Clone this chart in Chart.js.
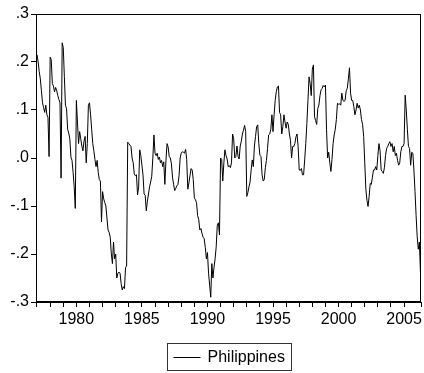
<!DOCTYPE html>
<html>
<head>
<meta charset="utf-8">
<script src="https://cdn.jsdelivr.net/npm/chart.js@4.4.1/dist/chart.umd.min.js"></script>
<style>
  html, body { margin: 0; padding: 0; background: #fff; }
  #wrap { width: 424px; height: 373px; }
</style>
</head>
<body>
<div id="wrap"><canvas id="chart" width="424" height="373"></canvas></div>
<script>
// monthly series, 1977M01 .. 2006M04
const startYear = 1977;
const seriesName = "Philippines";
const yearLabels = [1980, 1985, 1990, 1995, 2000, 2005];
const yTickValues = [-0.3, -0.2, -0.1, 0.0, 0.1, 0.2, 0.3];

const philippines = [
  // 1977
  0.215, 0.200, 0.180, 0.165, 0.140, 0.115, 0.105, 0.095, 0.110, 0.090, 0.085, 0.003,
  // 1978
  0.210, 0.205, 0.155, 0.150, 0.138, 0.147, 0.140, 0.130, 0.122, 0.115, -0.042, 0.240,
  // 1979
  0.230, 0.170, 0.110, 0.103, 0.060, 0.052, 0.040, 0.002, -0.005, -0.030, -0.060, -0.105,
  // 1980
  0.120, 0.075, 0.030, 0.055, 0.040, 0.025, 0.015, 0.035, 0.045, -0.010, 0.030, 0.110,
  // 1981
  0.115, 0.090, 0.060, 0.030, 0.015, -0.003, -0.018, -0.005, -0.030, -0.045, -0.048, -0.133,
  // 1982
  -0.070, -0.085, -0.093, -0.100, -0.125, -0.150, -0.155, -0.165, -0.200, -0.220, -0.175, -0.210,
  // 1983
  -0.200, -0.250, -0.240, -0.238, -0.240, -0.262, -0.275, -0.268, -0.272, -0.228, -0.225, 0.033,
  // 1984
  0.030, 0.027, 0.024, 0.000, -0.010, -0.033, -0.037, -0.035, -0.077, -0.060, 0.017, 0.005,
  // 1985
  -0.015, -0.035, -0.075, -0.078, -0.110, -0.090, -0.075, -0.060, -0.050, -0.038, 0.000, 0.048,
  // 1986
  0.010, 0.005, 0.010, -0.003, 0.002, -0.010, -0.005, -0.018, -0.008, -0.055, -0.005, 0.030,
  // 1987
  0.023, 0.003, 0.000, -0.012, -0.040, -0.055, -0.068, -0.063, -0.058, -0.055, -0.037, 0.000,
  // 1988
  0.010, 0.013, 0.012, 0.010, 0.018, -0.003, -0.065, -0.052, -0.037, -0.022, -0.025, -0.045,
  // 1989
  -0.083, -0.087, -0.093, -0.120, -0.128, -0.150, -0.147, -0.157, -0.165, -0.168, -0.186, -0.210,
  // 1990
  -0.197, -0.240, -0.265, -0.290, -0.220, -0.250, -0.228, -0.210, -0.185, -0.140, -0.135, -0.160,
  // 1991
  0.000, -0.003, -0.048, -0.010, 0.017, 0.005, -0.002, -0.018, -0.016, -0.020, -0.010, 0.050,
  // 1992
  0.040, 0.000, 0.003, 0.025, 0.003, -0.002, 0.025, 0.035, 0.050, 0.058, 0.068, 0.055,
  // 1993
  -0.080, -0.072, -0.060, -0.050, -0.025, -0.004, -0.018, 0.025, 0.045, 0.065, 0.069, 0.030,
  // 1994
  0.006, 0.003, -0.035, -0.048, -0.045, -0.020, -0.005, 0.020, 0.048, 0.050, 0.060, 0.090,
  // 1995
  0.055, 0.090, 0.120, 0.138, 0.148, 0.150, 0.095, 0.090, 0.050, 0.065, 0.090, 0.075,
  // 1996
  0.062, 0.075, 0.070, 0.050, 0.037, 0.000, 0.024, 0.024, 0.030, 0.044, 0.050, 0.024,
  // 1997
  -0.025, -0.026, -0.022, -0.035, -0.035, -0.004, 0.030, 0.072, 0.120, 0.169, 0.155, 0.130,
  // 1998
  0.185, 0.194, 0.086, 0.078, 0.070, 0.103, 0.110, 0.130, 0.142, 0.145, 0.151, 0.148,
  // 1999
  0.152, 0.060, 0.000, 0.012, -0.010, -0.028, -0.003, 0.030, 0.048, 0.060, 0.080, 0.114,
  // 2000
  0.112, 0.113, 0.110, 0.135, 0.120, 0.118, 0.120, 0.140, 0.145, 0.165, 0.188, 0.135,
  // 2001
  0.120, 0.120, 0.107, 0.090, 0.100, 0.114, 0.104, 0.110, 0.100, 0.080, 0.070, 0.045,
  // 2002
  -0.010, -0.065, -0.088, -0.101, -0.080, -0.053, -0.055, -0.040, -0.025, -0.025, -0.018, -0.025,
  // 2003
  0.005, 0.030, 0.015, -0.025, -0.028, -0.032, -0.020, 0.005, 0.020, 0.024, 0.030, 0.034,
  // 2004
  0.024, 0.030, 0.013, 0.024, 0.005, 0.010, -0.005, -0.015, -0.010, 0.013, 0.024, 0.024,
  // 2005
  0.030, 0.131, 0.100, 0.060, 0.024, 0.020, -0.015, 0.012, 0.010, -0.025, -0.070, -0.120,
  // 2006
  -0.164, -0.190, -0.175, -0.240
];

const points = philippines.map((v, i) => ({ x: startYear + i / 12, y: v }));

function fmtY(v) {
  if (Math.abs(v) < 1e-9) return '.0';
  const s = v.toFixed(1);
  return s.replace('0.', '.');
}

// frame around the plot + boxed legend under the axis (EViews style)
const framePlugin = {
  id: 'frame',
  afterDraw(chart) {
    const ctx = chart.ctx;
    const a = chart.chartArea;
    ctx.save();
    ctx.strokeStyle = '#000';
    ctx.lineWidth = 1;
    ctx.strokeRect(Math.round(a.left) + 0.5, Math.round(a.top) + 0.5,
      Math.round(a.right - a.left) - 1, Math.round(a.bottom - a.top) - 1);

    const ds = chart.data.datasets[0];
    ctx.font = '16px "Liberation Sans", Arial, sans-serif';
    const textW = ctx.measureText(ds.label).width;
    const lineW = 27, gap = 7, padL = 6.5, padR = 6;
    const boxW = Math.round(padL + lineW + gap + textW + padR);
    const left = Math.round((a.left + a.right) / 2 - boxW / 2);
    const top = 343, boxH = 27;
    const cy = top + boxH / 2;
    ctx.strokeStyle = '#333';
    ctx.strokeRect(left + 0.5, top + 0.5, boxW, boxH);
    ctx.strokeStyle = ds.borderColor;
    ctx.lineWidth = ds.borderWidth;
    ctx.beginPath();
    ctx.moveTo(left + padL, Math.round(cy) + 0.5);
    ctx.lineTo(left + padL + lineW, Math.round(cy) + 0.5);
    ctx.stroke();
    ctx.fillStyle = '#000';
    ctx.textBaseline = 'middle';
    ctx.textAlign = 'left';
    ctx.fillText(ds.label, left + padL + lineW + gap, cy + 1);
    ctx.restore();
  }
};

Chart.defaults.font.family = '"Liberation Sans", Arial, sans-serif';
Chart.defaults.font.size = 16;
Chart.defaults.color = '#000';

const chart = new Chart(document.getElementById('chart'), {
  type: 'line',
  data: {
    datasets: [{
      label: seriesName,
      data: points,
      borderColor: '#000',
      borderWidth: 1,
      pointRadius: 0,
      tension: 0,
      fill: false
    }]
  },
  options: {
    responsive: false,
    animation: false,
    layout: { padding: { top: 14, right: 3, left: 0, bottom: 0 } },
    plugins: {
      legend: { display: false },
      tooltip: { enabled: false }
    },
    scales: {
      x: {
        type: 'linear',
        min: 1976.92,
        max: 2006.29,
        afterFit: s => { s.height = 71; },
        border: { color: '#000' },
        grid: { drawOnChartArea: false, color: '#000', tickLength: 5 },
        ticks: {
          stepSize: 1,
          autoSkip: false,
          maxRotation: 0,
          padding: 3,
          callback: v => yearLabels.includes(v) ? String(v) : ''
        }
      },
      y: {
        min: -0.3,
        max: 0.3,
        afterFit: s => { s.width = 36; },
        afterBuildTicks: s => { s.ticks = yTickValues.map(v => ({ value: v })); },
        border: { color: '#000' },
        grid: { drawOnChartArea: false, color: '#000', tickLength: 5 },
        ticks: { padding: 2, callback: v => fmtY(v) }
      }
    }
  },
  plugins: [framePlugin]
});
</script>
</body>
</html>
